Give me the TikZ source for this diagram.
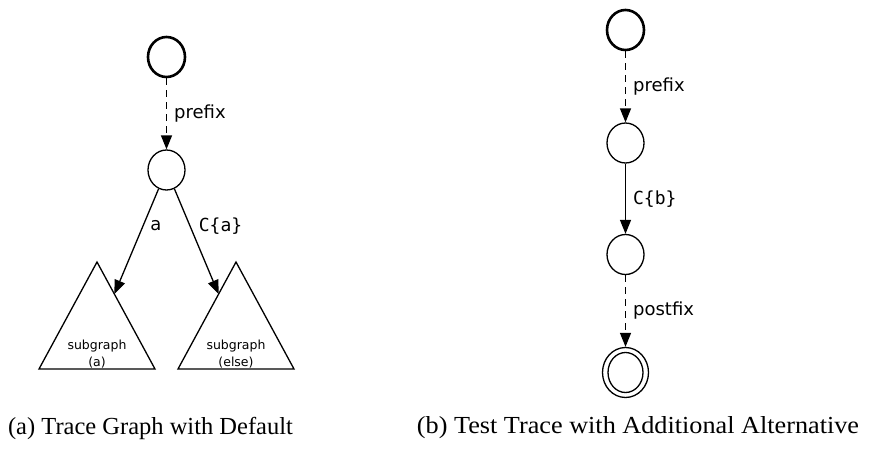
\documentclass[tikz,border=0pt]{standalone}
\usepackage{fontspec}
\setmainfont{Liberation Serif}
\newfontfamily\lblfont{DejaVu Sans}
\newfontfamily\codefont{DejaVu Sans Mono}
\usetikzlibrary{shapes.geometric,arrows.meta,calc}

\begin{document}
\begin{tikzpicture}[x=1pt,y=-1pt,
  state/.style={draw,ellipse,minimum width=37pt,minimum height=40pt,inner sep=0pt,line width=1.3pt},
  startstate/.style={state,line width=2.6pt},
  edge/.style={line width=1.3pt,-{Triangle[length=14pt,width=11pt]}},
  optedge/.style={edge,dash pattern=on 7pt off 5pt},
  lbl/.style={font=\lblfont\fontsize{18}{21}\selectfont,inner sep=0pt},
  codelbl/.style={font=\codefont\fontsize{18}{21}\selectfont,inner sep=0pt},
  subtext/.style={font=\lblfont\fontsize{12.5}{17}\selectfont,align=center,inner sep=0pt},
  tri/.style={line width=1.3pt,line join=miter},
  caption/.style={font=\fontsize{24.5}{28}\selectfont,inner sep=0pt}]
\useasboundingbox (0,0) rectangle (874,455);

% ---- (a) trace graph with default ----
\node[startstate] (a0) at (166.5,57) {};
\node[state] (a1) at (166.5,170) {};
\draw[optedge] (a0) -- (a1) node[lbl,midway,right=7pt] {prefix};

% subgraph triangles
\coordinate (t1top) at (97,262);
\coordinate (t1l) at (39,369);
\coordinate (t1r) at (155,369);
\coordinate (t2top) at (236,262);
\coordinate (t2l) at (178,369);
\coordinate (t2r) at (294,369);
\draw[tri] (t1top) -- (t1r) -- (t1l) -- cycle;
\draw[tri] (t2top) -- (t2r) -- (t2l) -- cycle;
\node[subtext] (sa) at (97,354) {subgraph\\(a)};
\node[subtext] (se) at (236,354) {subgraph\\(else)};
\coordinate (t1hit) at ($(t1top)!0.3!(t1r)$);
\coordinate (t2hit) at ($(t2top)!0.3!(t2l)$);
\draw[edge] (a1) -- (t1hit);
\draw[edge] (a1) -- (t2hit);
\node[lbl] (la) at (156,226) {a};
\node[codelbl] (lca) at (220.5,226) {C\{a\}};

% ---- (b) test trace with additional alternative ----
\node[startstate] (b0) at (625.5,30) {};
\node[state] (b1) at (625.5,143) {};
\node[state] (b2) at (625.5,254.5) {};
\node[state,minimum width=46pt,minimum height=50pt] (b3) at (625.5,372.5) {};
\node[state,minimum width=35pt,minimum height=40pt] (b3in) at (625.5,372.5) {};
\draw[optedge] (b0) -- (b1) node[lbl,midway,right=7pt] {prefix};
\draw[edge] (b1) -- (b2) node[codelbl,midway,right=7pt] {C\{b\}};
\draw[optedge] (b2) -- (b3) node[lbl,midway,right=7pt] {postfix};

% ---- captions ----
\node[caption] (capa) at (150.5,428) {(a) Trace Graph with Default};
\node[caption] (capb) at (638,428) {\scalebox{1.07}[1]{(b) Test Trace with Additional Alternative}};
\end{tikzpicture}
\end{document}
